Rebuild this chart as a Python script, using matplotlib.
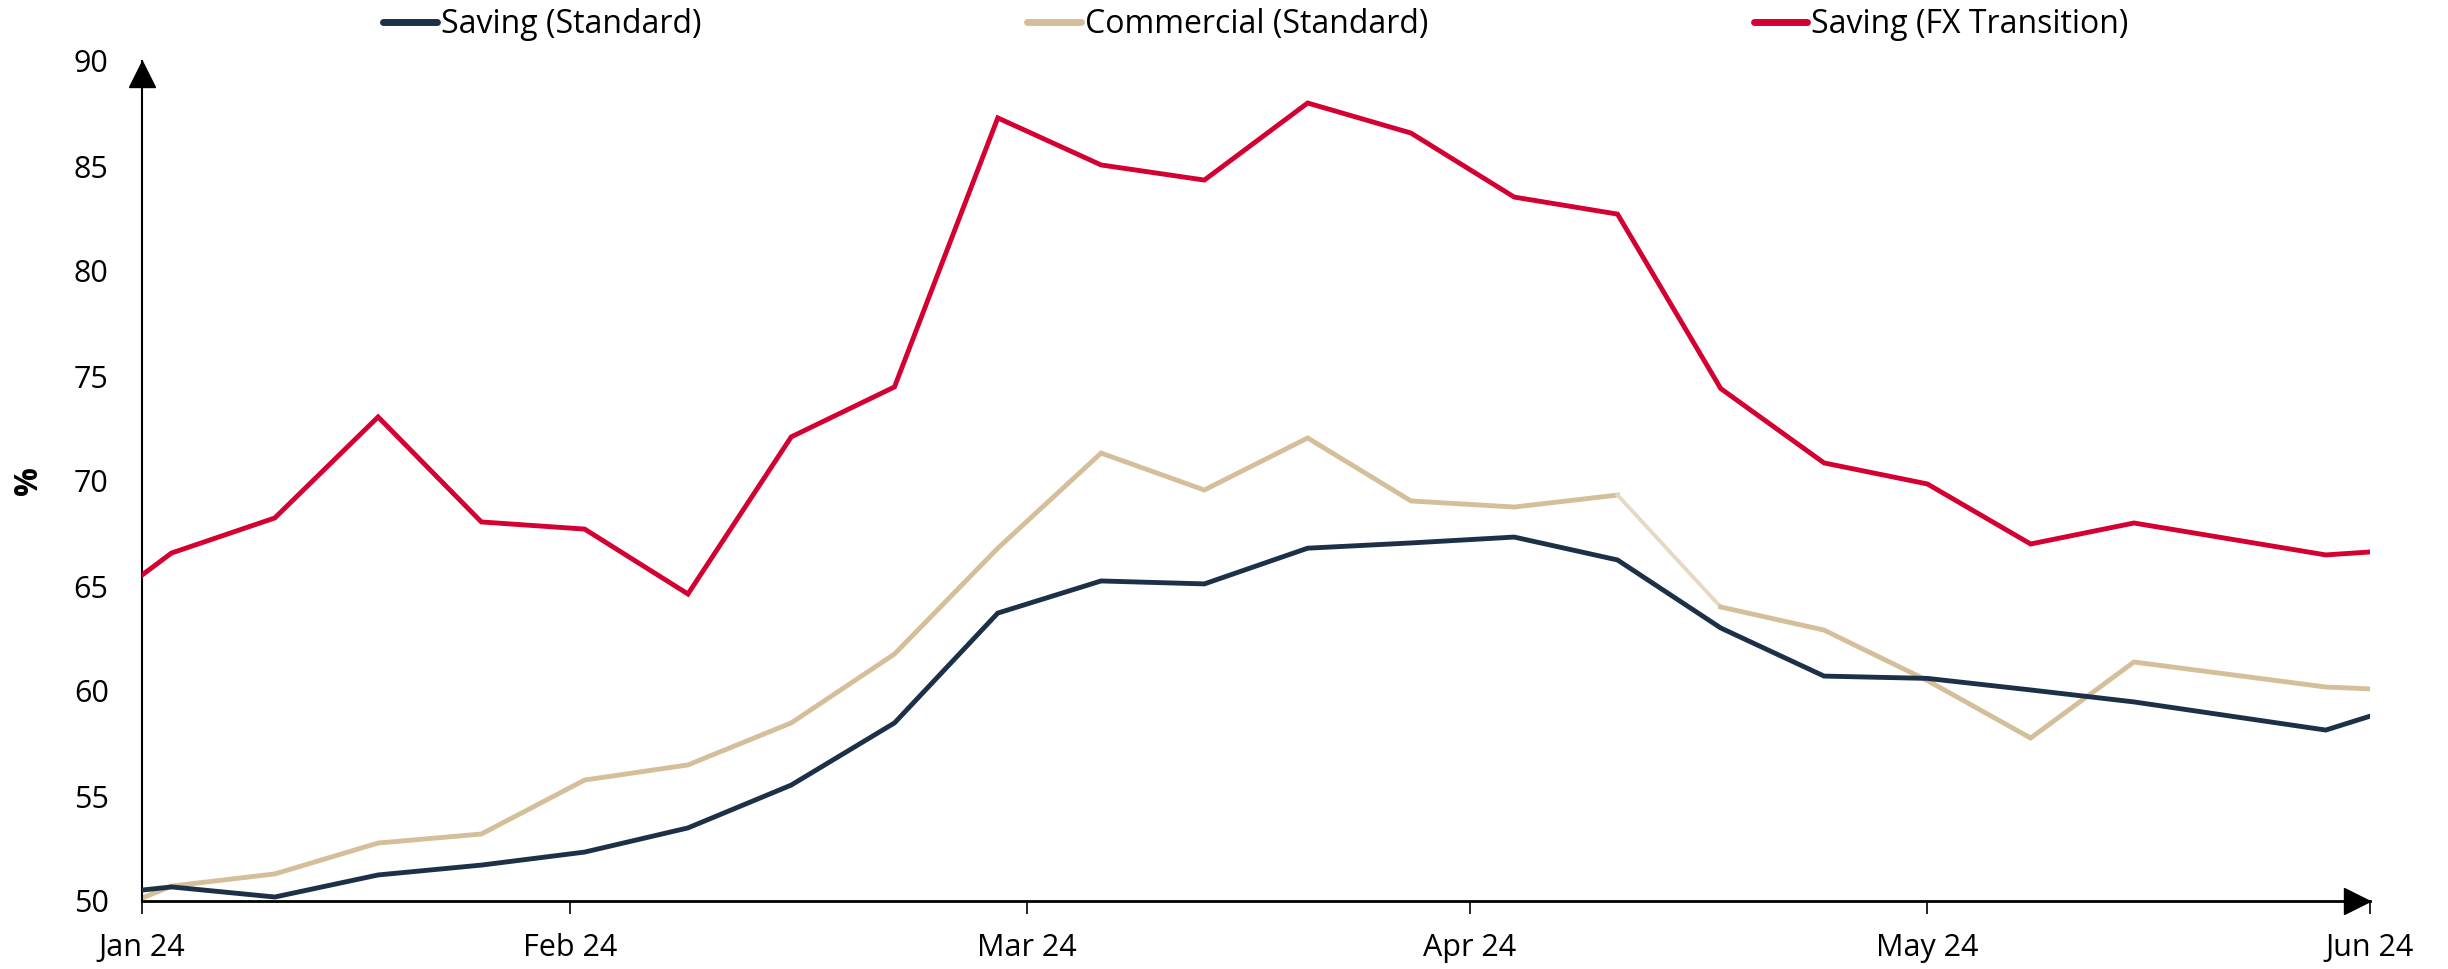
import numpy as np
import matplotlib
matplotlib.use("Agg")
import matplotlib.pyplot as plt
import matplotlib.transforms as mtransforms

plt.rcParams['font.family'] = ['Open Sans', 'DejaVu Sans']

#------------------------------------------------------------------------------
#Data (day offset from 1 Jan 2024)

days = [0, 2, 9, 16, 23, 30, 37, 44, 51, 58, 65, 72, 79, 86, 93, 100,
        107, 114, 121, 128, 135, 148, 151]

saving_std = [50.52, 50.67, 50.19, 51.24, 51.71, 52.33, 53.48, 55.52, 58.48,
              63.71, 65.24, 65.10, 66.80, 67.05, 67.33, 66.24, 63.00, 60.71,
              60.60, 60.05, 59.48, 58.14, 58.80]

commercial_std = [50.14, 50.71, 51.29, 52.76, 53.19, 55.76, 56.48, 58.48, 61.76,
                  66.80, 71.33, 69.57, 72.05, 69.05, 68.76, 69.33, 64.00, 62.90,
                  60.50, 57.76, 61.38, 60.19, 60.10]

saving_fx = [65.52, 66.57, 68.24, 73.05, 68.05, 67.71, 64.62, 72.10, 74.48,
             87.29, 85.05, 84.33, 88.00, 86.57, 83.52, 82.71, 74.40, 70.86,
             69.86, 67.00, 68.00, 66.48, 66.62]

# faded segment of the commercial line (between these two points)
faded_from = 15

month_pos = [0, 29, 60, 90, 121, 151]
month_labels = ["Jan 24", "Feb 24", "Mar 24", "Apr 24", "May 24", "Jun 24"]

NAVY = "#1C3148"
BEIGE = "#D5BE9A"
BEIGE_LIGHT = "#E6D9C4"
RED = "#D50032"

#------------------------------------------------------------------------------
#Plot

fig = plt.figure(figsize=(24.48, 9.69), dpi=100)
ax = fig.add_axes([142/2448, 1-901/969, (2370-142)/2448, (901-61)/969])

lw = 3.5
ax.plot(days, saving_std, color=NAVY, lw=lw, solid_joinstyle="miter",
        label="Saving (Standard)", zorder=3)
i = faded_from
ax.plot(days[:i+1], commercial_std[:i+1], color=BEIGE, lw=lw,
        solid_joinstyle="miter", label="Commercial (Standard)", zorder=2)
ax.plot(days[i:i+2], commercial_std[i:i+2], color=BEIGE_LIGHT, lw=2.8, zorder=2)
ax.plot(days[i+1:], commercial_std[i+1:], color=BEIGE, lw=lw,
        solid_joinstyle="miter", zorder=2)
ax.plot(days, saving_fx, color=RED, lw=lw, solid_joinstyle="miter",
        label="Saving (FX Transition)", zorder=4)

ax.set_xlim(0, 151)
ax.set_ylim(50, 90)
ax.set_yticks(np.arange(50, 91, 5))
ax.set_xticks(month_pos)
ax.set_xticklabels(month_labels)

for s in ["top", "right"]:
    ax.spines[s].set_visible(False)
ax.spines["left"].set_linewidth(1.5)
ax.spines["bottom"].set_linewidth(2.0)

ax.tick_params(axis="y", length=0, pad=24, labelsize=22)
ax.tick_params(axis="x", length=9, width=1.2, direction="out", pad=14,
               labelsize=22)

ax.set_ylabel("%", fontsize=23, fontweight="bold", labelpad=21)

# arrow heads at the ends of the axes
up = mtransforms.offset_copy(ax.transAxes, fig=fig, x=0, y=-13, units="dots")
right = mtransforms.offset_copy(ax.transAxes, fig=fig, x=-13, y=0, units="dots")
ax.plot(0, 1, marker="^", color="black", markersize=19, transform=up,
        clip_on=False, zorder=6)
ax.plot(1, 0, marker=">", color="black", markersize=19, transform=right,
        clip_on=False, zorder=6)

leg = ax.legend(loc="center", bbox_to_anchor=(0.5, 1 + 36/840), ncol=3,
                frameon=False, fontsize=23, handlelength=1.68,
                handletextpad=0.12, columnspacing=10.2)
for h in leg.get_lines():
    h.set_linewidth(5)
    h.set_solid_capstyle("round")

fig.savefig("out.png", dpi=100)
